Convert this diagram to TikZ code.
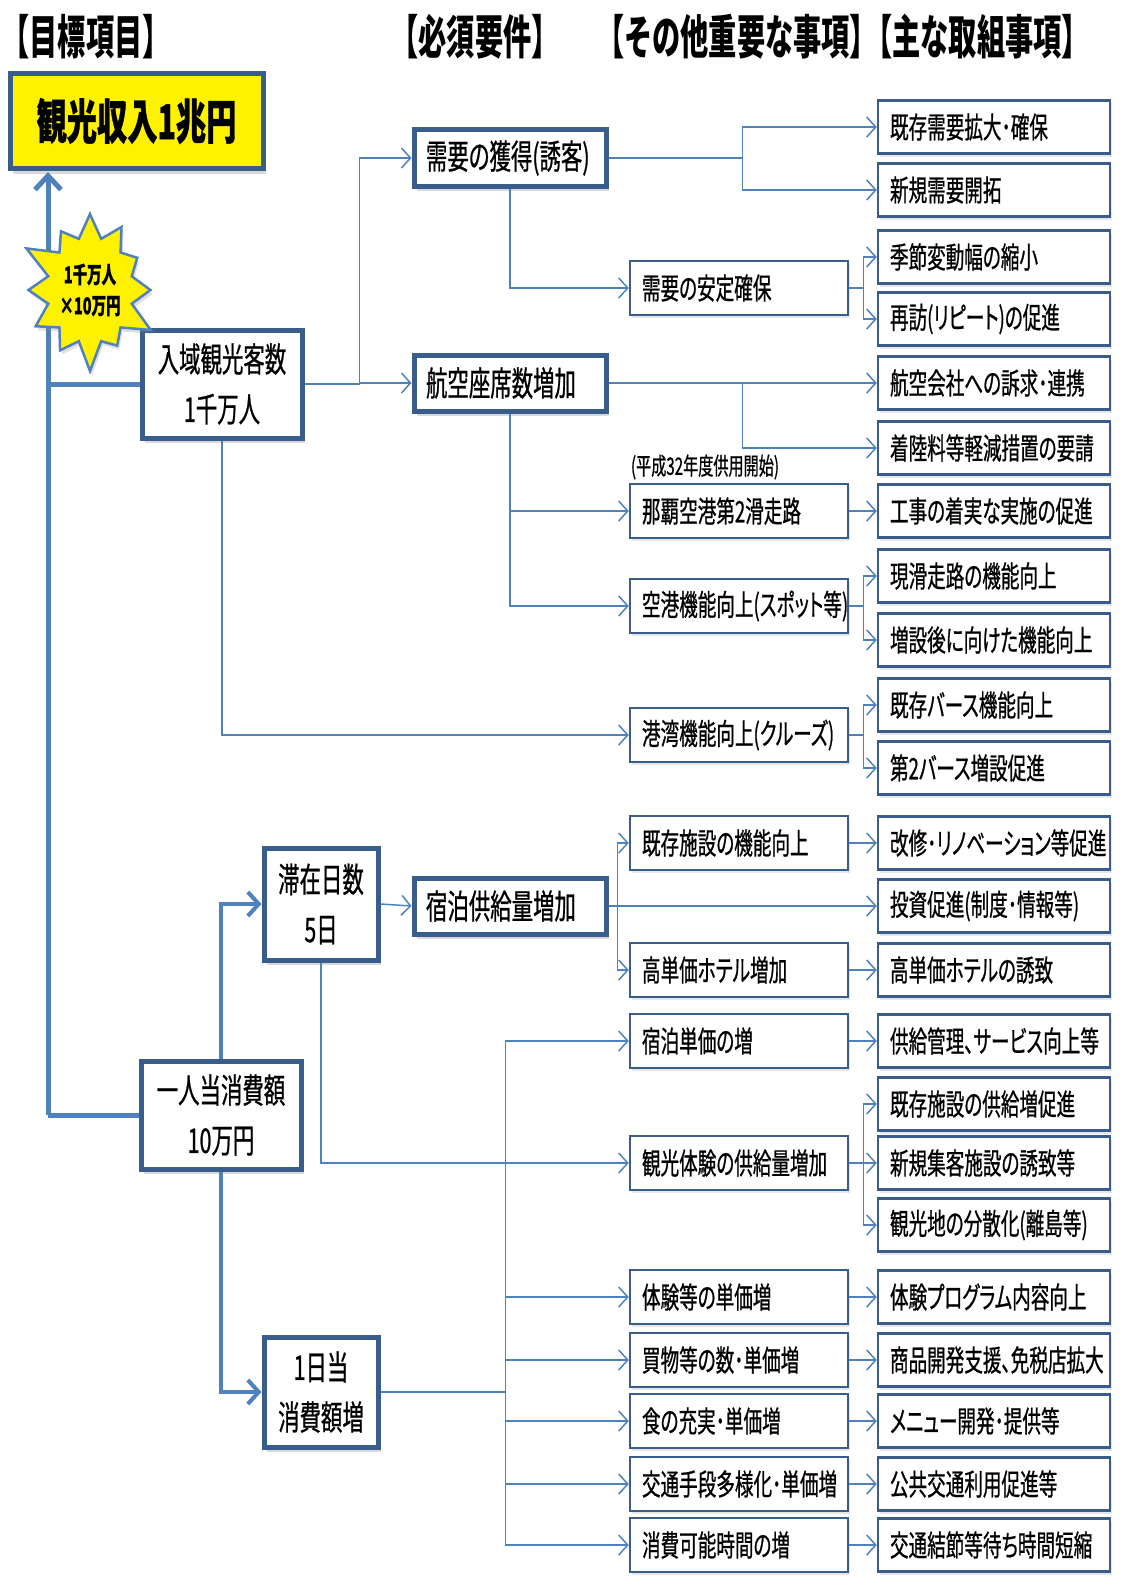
\documentclass[tikz,border=0pt]{standalone}
\usepackage{fontspec}
\setmainfont[FakeStretch=0.63,FakeBold=0.7,CharacterWidth=AlternateProportional]{Noto Sans CJK JP}
\newfontfamily\headfont[FakeStretch=0.6]{Noto Sans CJK JP}
\usetikzlibrary{arrows.meta,shapes.symbols,shadows}
\definecolor{lineblue}{RGB}{79,129,189}
\definecolor{boxblue}{RGB}{56,93,138}
\newcommand{\torikumi}[3]{%
 \node[torikumibox] ({#1}) at ({#2}) {#3};%
}
\newcommand{\jikou}[3]{%
 \node[jikoubox] ({#1}) at ({#2}) {#3};%
}
\newcommand{\youken}[3]{%
 \node[youkenbox] ({#1}) at ({#2}) {#3};%
}
\begin{document}
\begin{tikzpicture}[x=1pt,y=-1pt,
  arr/.style={draw=lineblue,line width=1.5pt,-{Straight Barb[length=9pt,width=20pt]}},
  trunk/.style={draw=lineblue,line width=5pt},
  bigarr/.style={draw=lineblue,line width=4pt,-{Straight Barb[length=11pt,width=24pt]}},
  torikumibox/.style={draw=boxblue,line width=2.5pt,fill=white,minimum width=232pt,minimum height=53pt,
    text width=208pt,inner xsep=12pt,align=left,font=\fontsize{29.5}{34}\selectfont,
    drop shadow={shadow xshift=2pt,shadow yshift=-3pt,opacity=.2}},
  jikoubox/.style={torikumibox,minimum width=218pt,text width=194pt,minimum height=54pt},
  youkenbox/.style={draw=boxblue,line width=5pt,fill=white,minimum width=192pt,minimum height=56pt,
    text width=168pt,inner xsep=12pt,align=left,font=\fontsize{34}{40}\selectfont,
    drop shadow={shadow xshift=3pt,shadow yshift=-5pt,opacity=.3}},
  kijunbox/.style={youkenbox,minimum width=160pt,minimum height=108pt,text width=150pt,inner xsep=5pt,
    align=center,font=\fontsize{34}{50}\selectfont},
  header/.style={inner sep=0pt,font=\headfont\fontsize{47}{50}\selectfont\bfseries}]
\useasboundingbox (0,0) rectangle (1130,1592);
% headers
\node[header] (h1) at (86,37) {【目標項目】};
\node[header] (h2) at (475,37) {【必須要件】};
\node[header] (h3) at (737,37) {【その他重要な事項】};
\node[header] (h4) at (977,37) {【主な取組事項】};
% goal
\node[draw=boxblue,line width=5pt,fill=yellow,minimum width=253pt,minimum height=95pt,
  font=\fontsize{48}{50}\selectfont\bfseries,drop shadow={shadow xshift=3pt,shadow yshift=-5pt,opacity=.3}]
  (goal) at (136.5,121) {観光収入1兆円};
\coordinate (stem) at (48,172);
\node[kijunbox] (visit) at (222,384) {入域観光客数\\1千万人};
\node[kijunbox] (spend) at (221,1115) {一人当消費額\\10万円};
\node[kijunbox,minimum width=112pt,text width=104pt,minimum height=112pt] (stay) at (321,904) {滞在日数\\5日};
\node[kijunbox,minimum width=112pt,text width=104pt,minimum height=110pt] (daily) at (321,1392) {1日当\\消費額増};
\draw[trunk] (visit.west) -- (visit.west -| stem);
\draw[trunk] (spend.west) -- (spend.west -| stem);
\draw[trunk,-{Straight Barb[length=14pt,width=26pt]}] (spend.west -| stem) -- (stem);
\node[starburst,starburst points=12,starburst point height=32pt,minimum width=145pt,minimum height=170pt,
  fill=yellow,draw=lineblue,line width=2.5pt,align=center,inner sep=0pt,
  drop shadow={shadow xshift=2pt,shadow yshift=-4pt,opacity=.25},
  font=\fontsize{23}{31}\selectfont\bfseries] (burst) at (90,290) {1千万人\\×10万円};
% requirements
\youken{demand}{510,158}{需要の獲得(誘客)}
\youken{seats}{510,383}{航空座席数増加}
\youken{rooms}{510,906}{宿泊供給量増加}
% other matters
\jikou{stable}{739,288}{需要の安定確保}
\node[font=\fontsize{24}{26}\selectfont] (note) at (705,467) {(平成32年度供用開始)};
\jikou{naha}{739,511}{那覇空港第2滑走路}
\jikou{apron}{739,606}{空港機能向上(スポット等)}
\jikou{port}{739,735}{港湾機能向上(クルーズ)}
\jikou{renew}{739,843}{既存施設の機能向上}
\jikou{hotel}{739,970}{高単価ホテル増加}
\jikou{roomprice}{739,1041}{宿泊単価の増}
\jikou{expsupply}{739,1163}{観光体験の供給量増加}
\jikou{expprice}{739,1297}{体験等の単価増}
\jikou{shop}{739,1360}{買物等の数･単価増}
\jikou{food}{739,1421}{食の充実･単価増}
\jikou{traffic}{739,1484}{交通手段多様化･単価増}
\jikou{spare}{739,1545}{消費可能時間の増}
% actions
\torikumi{exist}{994,127}{既存需要拡大･確保}
\torikumi{newdem}{994,190}{新規需要開拓}
\torikumi{season}{994,257}{季節変動幅の縮小}
\torikumi{repeat}{994,319}{再訪(リピート)の促進}
\torikumi{airline}{994,383}{航空会社への訴求･連携}
\torikumi{landfee}{994,448}{着陸料等軽減措置の要請}
\torikumi{works}{994,511}{工事の着実な実施の促進}
\torikumi{runway}{994,576}{現滑走路の機能向上}
\torikumi{future}{994,640}{増設後に向けた機能向上}
\torikumi{berth}{994,705}{既存バース機能向上}
\torikumi{berthtwo}{994,768}{第2バース増設促進}
\torikumi{renovate}{994,843}{改修･リノベーション等促進}
\torikumi{invest}{994,906}{投資促進(制度･情報等)}
\torikumi{attract}{994,970}{高単価ホテルの誘致}
\torikumi{service}{994,1041}{供給管理、サービス向上等}
\torikumi{facil}{994,1104}{既存施設の供給増促進}
\torikumi{newfac}{994,1163}{新規集客施設の誘致等}
\torikumi{disperse}{994,1225}{観光地の分散化(離島等)}
\torikumi{program}{994,1297}{体験プログラム内容向上}
\torikumi{goods}{994,1360}{商品開発支援、免税店拡大}
\torikumi{menu}{994,1421}{メニュー開発･提供等}
\torikumi{transit}{994,1484}{公共交通利用促進等}
\torikumi{wait}{994,1545}{交通結節等待ち時間短縮}
% connectors
\draw[arr] (visit.east) -- ++(55,0) |- (demand.west);
\draw[arr] (visit.east) -- ++(55,0) |- (seats.west);
\draw[arr] (visit.south) |- (port.west);
\draw[arr] (demand.east) -- ++(134,0) |- (exist.west);
\draw[arr] (demand.east) -- ++(134,0) |- (newdem.west);
\draw[arr] (demand.south) |- (stable.west);
\draw[arr] (seats.east) -- (airline.west);
\draw[arr] (seats.east) -- ++(134,0) |- (landfee.west);
\draw[arr] (seats.south) |- (naha.west);
\draw[arr] (seats.south) |- (apron.west);
\foreach \a/\b/\c in {stable/season/repeat,apron/runway/future,port/berth/berthtwo}{
  \draw[arr] (\a.east) -- ++(14,0) |- (\b.west);
  \draw[arr] (\a.east) -- ++(14,0) |- (\c.west);
}
\draw[bigarr] (spend.north) |- (stay.west);
\draw[bigarr] (spend.south) |- (daily.west);
\draw[arr] (stay.east) -- (rooms.west);
\draw[arr] (rooms.east) -- (invest.west);
\draw[arr] (rooms.east) -- ++(9,0) |- (renew.west);
\draw[arr] (rooms.east) -- ++(9,0) |- (hotel.west);
\draw[arr] (stay.south) |- (expsupply.west);
\foreach \b in {facil,newfac,disperse}
  \draw[arr] (expsupply.east) -- ++(14,0) |- (\b.west);
\foreach \m in {roomprice,expprice,shop,food,traffic,spare}
  \draw[arr] (daily.east) -- ++(125,0) |- (\m.west);
\foreach \a/\b in {naha/works,renew/renovate,hotel/attract,roomprice/service,expprice/program,
  shop/goods,food/menu,traffic/transit,spare/wait}
  \draw[arr] (\a.east) -- (\b.west);
\end{tikzpicture}
\end{document}
